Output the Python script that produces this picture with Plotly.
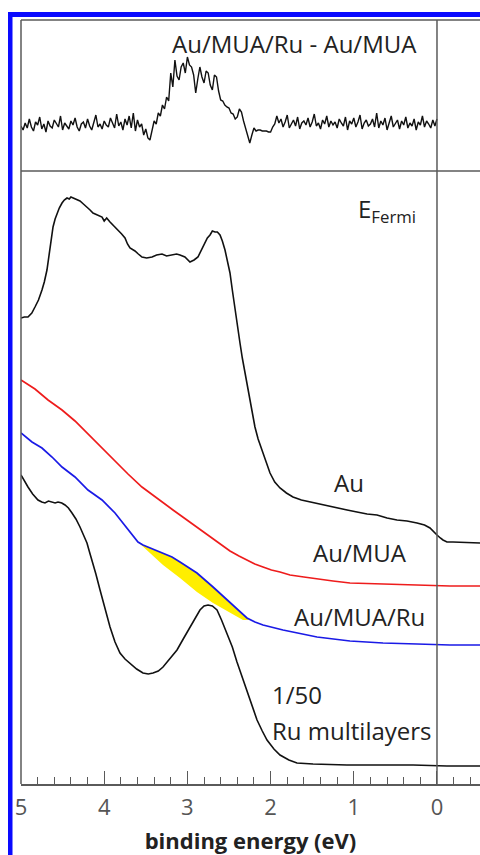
import plotly.graph_objects as go

W, H = 480, 855

# ---------------- data (binding energy in eV, intensity in arb. units) ----------------
# difference spectrum Au/MUA/Ru - Au/MUA (top panel)
diff_x = [5.000, 4.975, 4.950, 4.925, 4.900, 4.875, 4.850, 4.825,
          4.800, 4.775, 4.750, 4.725, 4.700, 4.675, 4.650, 4.625,
          4.600, 4.575, 4.550, 4.525, 4.500, 4.475, 4.450, 4.425,
          4.400, 4.375, 4.350, 4.325, 4.300, 4.275, 4.250, 4.225,
          4.200, 4.175, 4.150, 4.125, 4.100, 4.075, 4.050, 4.025,
          4.000, 3.975, 3.950, 3.925, 3.900, 3.875, 3.850, 3.825,
          3.800, 3.775, 3.750, 3.725, 3.700, 3.675, 3.650, 3.625,
          3.600, 3.575, 3.550, 3.525, 3.500, 3.475, 3.450, 3.425,
          3.400, 3.375, 3.350, 3.325, 3.300, 3.275, 3.250, 3.225,
          3.200, 3.175, 3.150, 3.125, 3.100, 3.075, 3.050, 3.025,
          3.000, 2.975, 2.950, 2.925, 2.900, 2.875, 2.850, 2.825,
          2.800, 2.775, 2.750, 2.725, 2.700, 2.675, 2.650, 2.625,
          2.600, 2.575, 2.550, 2.525, 2.500, 2.475, 2.450, 2.425,
          2.400, 2.375, 2.350, 2.325, 2.300, 2.275, 2.250, 2.225,
          2.200, 2.175, 2.150, 2.125, 2.100, 2.075, 2.050, 2.025,
          2.000, 1.975, 1.950, 1.925, 1.900, 1.875, 1.850, 1.825,
          1.800, 1.775, 1.750, 1.725, 1.700, 1.675, 1.650, 1.625,
          1.600, 1.575, 1.550, 1.525, 1.500, 1.475, 1.450, 1.425,
          1.400, 1.375, 1.350, 1.325, 1.300, 1.275, 1.250, 1.225,
          1.200, 1.175, 1.150, 1.125, 1.100, 1.075, 1.050, 1.025,
          1.000, 0.975, 0.950, 0.925, 0.900, 0.875, 0.850, 0.825,
          0.800, 0.775, 0.750, 0.725, 0.700, 0.675, 0.650, 0.625,
          0.600, 0.575, 0.550, 0.525, 0.500, 0.475, 0.450, 0.425,
          0.400, 0.375, 0.350, 0.325, 0.300, 0.275, 0.250, 0.225,
          0.200, 0.175, 0.150, 0.125, 0.100, 0.075, 0.050, 0.025,
          0.000]
diff_y = [45, 41, 48, 43, 52, 44, 40, 49, 46, 54, 42, 47, 39, 50, 45, 43, 51, 47, 44, 55,
          41, 48, 45, 42, 50, 46, 53, 44, 40, 47, 49, 43, 52, 45, 41, 48, 56, 44, 47, 42,
          50, 46, 44, 53, 48, 43, 57, 45, 49, 41, 52, 46, 55, 43, 58, 40, 51, 44, 47, 36,
          42, 33,
          31, 40, 50, 47, 58, 55, 66, 62, 74, 70, 98, 84, 111, 95, 91, 104, 108, 98, 114, 106,
          104, 96, 78, 92, 104, 94, 88, 100, 98, 86, 81, 96, 94, 80, 71, 70, 66, 64, 63, 58,
          57, 52, 54, 62, 59, 50, 42, 35, 28, 36, 43, 40, 41, 41, 40, 40, 40, 39, 39, 44,
          47, 55, 48,
          52, 44, 49, 56, 43, 47, 51, 45, 54, 42, 48, 50, 46, 53, 44, 49, 57, 45, 48, 42,
          51, 47, 55, 44, 50, 46, 49, 43, 52, 48, 45, 54, 41, 50, 47, 53, 44, 49, 56, 42,
          48, 51, 45, 47, 52, 44, 58, 43, 50, 46, 53, 41, 49, 55, 44, 47, 51, 42, 50, 46,
          54, 43, 48, 45, 52, 41, 49, 46, 55, 44, 50, 47, 43, 51, 45, 52]

# Au
au_x = [5.000, 4.960, 4.916, 4.870, 4.832, 4.790, 4.748, 4.720, 4.688, 4.670, 4.651, 4.630, 4.615,
        4.590, 4.567, 4.540, 4.507, 4.480, 4.447, 4.420, 4.400, 4.375, 4.340, 4.310, 4.291, 4.250,
        4.207, 4.170, 4.135, 4.080, 4.026, 4.000, 3.970, 3.930, 3.880, 3.834, 3.790, 3.750, 3.720,
        3.690, 3.630, 3.590, 3.546, 3.490, 3.425, 3.370, 3.305, 3.250, 3.185, 3.130, 3.089, 3.030,
        2.969, 2.920, 2.873, 2.830, 2.788, 2.760, 2.728, 2.700, 2.668, 2.640, 2.608, 2.580, 2.548,
        2.520, 2.488, 2.460, 2.428, 2.400, 2.368, 2.340, 2.308, 2.280, 2.248, 2.220, 2.188, 2.150,
        2.103, 2.060, 2.007, 1.950, 1.887, 1.810, 1.731, 1.630, 1.526, 1.420, 1.322, 1.202, 1.080,
        0.962, 0.840, 0.721, 0.600, 0.481, 0.360, 0.240, 0.150, 0.084, 0.040, 0.000, -0.040,
        -0.072, -0.120, -0.192, -0.517]
au_y = [466, 467, 467, 471, 477, 484, 494, 502, 514, 526, 537, 548, 557,
        565, 571, 576, 581, 584, 586, 585, 587, 586, 585, 584, 583, 580,
        577, 574, 571, 569, 567, 563, 566, 562, 558, 554, 550, 546, 540,
        536, 533, 530, 527, 526, 527, 529, 530, 528, 529, 530, 529, 527,
        522, 524, 527, 534, 541, 546, 549, 553, 552, 552, 549, 543, 534,
        524, 511, 494, 474, 458, 441, 426, 411, 398, 384, 371, 357, 345,
        334, 322, 311, 302, 296, 291, 287, 284, 282, 280, 278, 276, 274,
        272, 270, 269, 266, 264, 263, 261, 259, 256, 252, 249, 246,
        244, 242, 242, 241]

# Au/MUA
mua_x = [5.000, 4.832, 4.675, 4.507, 4.351, 4.195, 4.026, 3.870, 3.714, 3.546, 3.389, 3.305, 3.173,
         3.089, 2.885, 2.692, 2.488, 2.380, 2.284, 2.190, 2.091, 1.990, 1.887, 1.767, 1.600, 1.442,
         1.250, 1.046, 0.649, 0.240, -0.156, -0.517]
mua_y = [404, 395, 384, 374, 363, 350, 336, 323, 310, 297, 287, 282, 274,
         269, 257, 245, 233, 228, 224, 220, 217, 214, 212, 209, 207, 205,
         203, 201, 200, 199, 198, 198]

# Au/MUA/Ru
ru_x = [5.000, 4.868, 4.748, 4.627, 4.507, 4.351, 4.195, 4.026, 3.870, 3.714, 3.594, 3.534, 3.389,
        3.293, 3.185, 3.089, 2.885, 2.692, 2.488, 2.284, 2.188, 2.091, 1.851, 1.442, 1.046, 0.649,
        0.240, -0.156, -0.517]
ru_y = [351, 342, 336, 327, 317, 307, 294, 284, 271, 254, 242, 239, 234,
        231, 227, 222, 211, 197, 181, 166, 162, 159, 154, 147, 143, 141,
        140, 139, 139]

# lower edge of the highlighted (yellow) difference region
hl_x = [3.594, 3.450, 3.293, 3.089, 2.885, 2.692, 2.488, 2.332, 2.260]
hl_y = [242, 231, 219, 206, 192, 181, 171, 164, 164]

# Ru multilayers (scaled 1/50)
rml_x = [5.000, 4.960, 4.916, 4.860, 4.796, 4.750, 4.712, 4.670, 4.627, 4.590, 4.555, 4.510, 4.471,
         4.430, 4.387, 4.340, 4.291, 4.250, 4.207, 4.180, 4.147, 4.100, 4.050, 3.990, 3.930, 3.870,
         3.810, 3.750, 3.690, 3.610, 3.534, 3.470, 3.413, 3.350, 3.293, 3.210, 3.125, 3.050, 2.969,
         2.910, 2.849, 2.800, 2.752, 2.700, 2.644, 2.590, 2.524, 2.460, 2.404, 2.340, 2.284, 2.220,
         2.163, 2.100, 2.043, 1.960, 1.887, 1.780, 1.683, 1.490, 1.082, 0.685, 0.288, -0.120, -0.517]
rml_y = [309, 303, 297, 290, 284, 282, 281, 283, 282, 281, 282, 281, 279,
         276, 271, 265, 257, 250, 241, 233, 224, 210, 194, 175, 157, 142,
         131, 125, 121, 115, 111, 110, 111, 113, 117, 125, 134, 145, 157,
         166, 174, 178, 179, 178, 174, 164, 151, 137, 122, 107, 92, 77,
         64, 53, 44, 35, 29, 24, 21, 20, 19, 19, 19, 18, 18]

x_ticks = [5, 4, 3, 2, 1, 0]
x_tick_labels = ["5", "4", "3", "2", "1", "0"]

# ---------------- layout helpers (pixel -> paper) ----------------
def px(x):
    return x / W

def py(y):
    return 1 - y / H

X0 = 21
Y_TOP, Y_DIV, Y_BOT = 20, 171, 784

fig = go.Figure()

# yellow highlighted region (between Au/MUA/Ru and reference)
sel = [i for i, v in enumerate(ru_x) if 2.284 <= v <= 3.594]
poly_x = [ru_x[i] for i in sel] + hl_x[::-1]
poly_y = [ru_y[i] for i in sel] + hl_y[::-1]
fig.add_trace(go.Scatter(x=poly_x, y=poly_y, mode="lines", fill="toself",
                         fillcolor="#ffee00", line=dict(width=0, color="#ffee00"),
                         hoverinfo="skip", showlegend=False))

fig.add_trace(go.Scatter(x=au_x, y=au_y, mode="lines", line=dict(color="#111111", width=1.6),
                         name="Au", showlegend=False))
fig.add_trace(go.Scatter(x=mua_x, y=mua_y, mode="lines", line=dict(color="#ee1c1c", width=1.7),
                         name="Au/MUA", showlegend=False))
fig.add_trace(go.Scatter(x=ru_x, y=ru_y, mode="lines", line=dict(color="#1a1ae6", width=1.7),
                         name="Au/MUA/Ru", showlegend=False))
fig.add_trace(go.Scatter(x=rml_x, y=rml_y, mode="lines", line=dict(color="#111111", width=1.6),
                         name="Ru multilayers", showlegend=False))
fig.add_trace(go.Scatter(x=diff_x, y=diff_y, mode="lines", line=dict(color="#111111", width=1.4),
                         xaxis="x2", yaxis="y2", name="difference", showlegend=False))

XR = [5, -0.517]
FONT = "Open Sans"
axis_gray = "#5a5a5a"

fig.update_layout(
    width=W, height=H,
    margin=dict(l=0, r=0, t=0, b=0, autoexpand=False),
    paper_bgcolor="white", plot_bgcolor="white",
    font=dict(family=FONT, color="#222222"),
    xaxis=dict(domain=[px(X0), 1], range=XR, anchor="y",
               showgrid=False, zeroline=False,
               showline=True, linecolor=axis_gray, linewidth=1.5,
               tickmode="array", tickvals=x_ticks, ticktext=x_tick_labels,
               ticks="inside", ticklen=13, tickwidth=1.3, tickcolor=axis_gray,
               minor=dict(dtick=0.2, ticks="inside", ticklen=7, tickwidth=1.2, tickcolor=axis_gray,
                          showgrid=False),
               tickfont=dict(size=22, color="#555555", family=FONT),
               ticklabelstandoff=3,
               title=dict(text="<b>binding energy (eV)</b>", font=dict(size=22, color="#222222", family=FONT),
                          standoff=14)),
    yaxis=dict(domain=[py(Y_BOT), py(Y_DIV)], range=[0, Y_BOT - Y_DIV], anchor="x",
               showgrid=False, zeroline=False, showticklabels=False, ticks="", showline=False),
    xaxis2=dict(domain=[px(X0), 1], range=XR, anchor="y2", matches="x",
                showgrid=False, zeroline=False, showticklabels=False, ticks="", showline=False),
    yaxis2=dict(domain=[py(Y_DIV), py(Y_TOP)], range=[0, Y_DIV - Y_TOP], anchor="x2",
                showgrid=False, zeroline=False, showticklabels=False, ticks="", showline=False),
)

line_style = dict(color=axis_gray, width=1.5)
shapes = [
    # plot frame
    dict(type="line", xref="paper", yref="paper", x0=px(X0), x1=1, y0=py(Y_TOP), y1=py(Y_TOP), line=line_style),
    dict(type="line", xref="paper", yref="paper", x0=px(X0), x1=1, y0=py(Y_DIV), y1=py(Y_DIV), line=line_style),
    dict(type="line", xref="paper", yref="paper", x0=px(X0), x1=px(X0), y0=py(Y_BOT), y1=py(Y_TOP), line=line_style),
    # Fermi level
    dict(type="line", xref="x", yref="paper", x0=0, x1=0, y0=py(Y_BOT), y1=py(Y_TOP), line=line_style),
    # blue border
    dict(type="rect", xref="paper", yref="paper", x0=px(8), x1=px(12.5), y0=0, y1=py(12),
         line=dict(width=0), fillcolor="#0a0aff"),
    dict(type="rect", xref="paper", yref="paper", x0=px(8), x1=1, y0=py(17), y1=py(12),
         line=dict(width=0), fillcolor="#0a0aff"),
]
fig.update_layout(shapes=shapes)

def label(text, x, y, size=24):
    fig.add_annotation(text=text, xref="paper", yref="paper", x=px(x), y=py(y),
                       xanchor="left", yanchor="middle", showarrow=False,
                       font=dict(size=size, family=FONT, color="#222222"))

label("Au/MUA/Ru - Au/MUA", 170, 43)
label("E<sub>Fermi</sub>", 356, 210)
label("Au", 332, 482)
label("Au/MUA", 311, 552)
label("Au/MUA/Ru", 292, 616)
label("1/50", 270, 694)
label("Ru multilayers", 270, 730)

fig.write_html("out.html")
